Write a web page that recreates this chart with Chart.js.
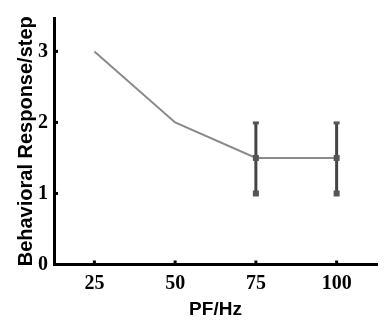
<!DOCTYPE html>
<html>
<head>
<script src="https://cdn.jsdelivr.net/npm/chart.js"></script>
<style>
  body { margin: 0; background: #fff; }
  #wrap { width: 390px; height: 322px; }
</style>
</head>
<body>
<div id="wrap"><canvas id="myChart" width="390" height="322"></canvas></div>
<script>
  // data
  const freqs = [25, 50, 75, 100];
  const response = [3, 2, 1.5, 1.5];
  const errLow = [null, null, 1, 1];
  const errHigh = [null, null, 2, 2];
  const xTicks = [25, 50, 75, 100];
  const yTicks = [0, 1, 2, 3];

  // inward tick marks + error bars
  const extras = {
    id: 'extras',
    afterDatasetsDraw(chart) {
      const ctx = chart.ctx;
      const x = chart.scales.x, y = chart.scales.y;
      const area = chart.chartArea;
      ctx.save();
      ctx.strokeStyle = '#000';
      ctx.lineWidth = 3;
      xTicks.forEach(function (t) {
        const px = x.getPixelForValue(t);
        ctx.beginPath();
        ctx.moveTo(px, area.bottom);
        ctx.lineTo(px, area.bottom - 4);
        ctx.stroke();
      });
      yTicks.forEach(function (t) {
        if (t === 0) return;
        const py = y.getPixelForValue(t);
        ctx.beginPath();
        ctx.moveTo(area.left, py);
        ctx.lineTo(area.left + 4, py);
        ctx.stroke();
      });

      ctx.strokeStyle = '#444';
      ctx.fillStyle = '#555';
      ctx.lineWidth = 3;
      freqs.forEach(function (f, i) {
        if (errLow[i] === null) return;
        const px = x.getPixelForValue(f);
        const lo = y.getPixelForValue(errLow[i]);
        const hi = y.getPixelForValue(errHigh[i]);
        ctx.beginPath();
        ctx.moveTo(px, lo);
        ctx.lineTo(px, hi);
        ctx.stroke();
        ctx.fillRect(px - 3, hi - 1, 6, 3);
        ctx.fillRect(px - 3, lo - 3, 6, 6);
        ctx.fillRect(px - 3, y.getPixelForValue(response[i]) - 3, 6, 6);
      });
      ctx.restore();
    }
  };

  const config = {
    type: 'line',
    data: {
      datasets: [{
        data: freqs.map(function (f, i) { return { x: f, y: response[i] }; }),
        borderColor: '#8a8a8a',
        borderWidth: 2,
        pointRadius: 0,
        tension: 0,
        fill: false
      }]
    },
    options: {
      responsive: false,
      animation: false,
      layout: { padding: { top: 3, right: 13, left: 0, bottom: 0 } },
      plugins: { legend: { display: false }, tooltip: { enabled: false } },
      scales: {
        x: {
          type: 'linear',
          min: 12.5,
          max: 112.5,
          afterBuildTicks: function (axis) { axis.ticks = xTicks.map(function (v) { return { value: v }; }); },
          afterFit: function (axis) { axis.height = 57.5; },
          grid: { display: false, drawTicks: false },
          border: { display: true, color: '#000', width: 3 },
          ticks: { color: '#000', padding: 7, font: { family: 'Liberation Serif', size: 20, weight: 'bold' } },
          title: { display: true, text: 'PF/Hz', color: '#000', padding: { top: 0, bottom: 1 }, font: { family: 'Liberation Sans', size: 19, weight: 'bold' } }
        },
        y: {
          min: 0,
          max: 3.47,
          afterBuildTicks: function (axis) { axis.ticks = yTicks.map(function (v) { return { value: v }; }); },
          afterFit: function (axis) { axis.width = 54; },
          grid: { display: false, drawTicks: false },
          border: { display: true, color: '#000', width: 3 },
          ticks: { color: '#000', padding: 6, font: { family: 'Liberation Serif', size: 20, weight: 'bold' } },
          title: { display: true, text: 'Behavioral Response/step', color: '#000', padding: { top: 14, bottom: 0 }, font: { family: 'Liberation Sans', size: 20, weight: 'bold' } }
        }
      }
    },
    plugins: [extras]
  };

  const myChart = new Chart(document.getElementById('myChart'), config);
</script>
</body>
</html>
